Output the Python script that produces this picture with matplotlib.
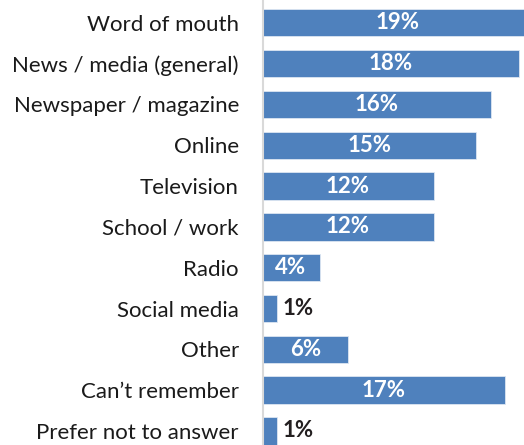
import matplotlib
matplotlib.use("Agg")
from matplotlib import pyplot as plt

plt.rcParams['font.family'] = ['Lato', 'DejaVu Sans']

sources = [
    "Word of mouth",
    "News / media (general)",
    "Newspaper / magazine",
    "Online",
    "Television",
    "School / work",
    "Radio",
    "Social media",
    "Other",
    "Can\u2019t remember",
    "Prefer not to answer",
]
shares = [19, 18, 16, 15, 12, 12, 4, 1, 6, 17, 1]

bar_color = "#4f81bd"
dark_text = "#231f20"

fig = plt.figure(figsize=(5.24, 4.45), dpi=100)
ax = fig.add_axes([262.5 / 524, 0, 1 - 262.5 / 524, 1])

rows = list(range(len(sources)))
ax.barh(rows, shares, height=0.67, color=bar_color, edgecolor="#dce6f2",
        linewidth=0.6, zorder=2)

for row, value in zip(rows, shares):
    label = f"{value}%"
    if value >= 3:
        ax.text(value / 2, row, label, ha="center", va="center", color="white",
                fontsize=16, fontweight="bold", clip_on=False)
    else:
        ax.text(value + 0.42, row, label, ha="left", va="center", color=dark_text,
                fontsize=16, fontweight="bold")

ax.set_xlim(0, 261.5 / 14.25)
ax.set_ylim(10.343, -0.556)

ax.set_yticks(rows)
ax.set_yticklabels(sources, fontsize=16, color="#1a1a1a")
ax.tick_params(axis="y", length=0, pad=17)
ax.set_xticks([])

for side in ("top", "right", "bottom"):
    ax.spines[side].set_visible(False)
ax.spines["left"].set_color("#d9d9d9")
ax.spines["left"].set_linewidth(1.5)

fig.savefig("out.png", dpi=100)
